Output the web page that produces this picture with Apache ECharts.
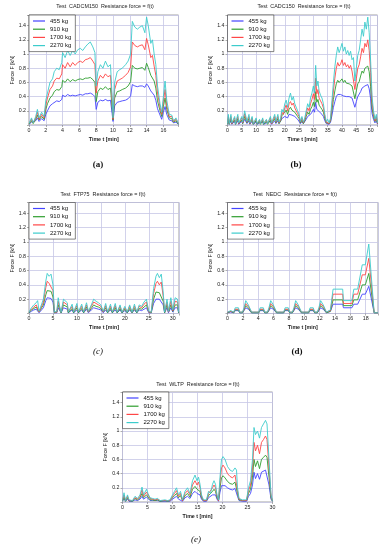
<!DOCTYPE html>
<html><head><meta charset="utf-8">
<script src="https://cdn.jsdelivr.net/npm/echarts@6/dist/echarts.min.js"></script>
<style>html,body{margin:0;padding:0;background:#fff}#c{width:386px;height:550px}</style>
</head><body><div id="c"></div>
<script>
const massNames = ['455 kg','910 kg','1700 kg','2270 kg'];
const panelTitles = ['Test  CADCM150  Resistance force = f(t)','Test  CADC150  Resistance force = f(t)','Test  FTP75  Resistance force = f(t)','Test  NEDC  Resistance force = f(t)','Test  WLTP  Resistance force = f(t)'];
const captions = ['(a)','(b)','(c)','(d)','(e)'];
const xMax = [17.8, 52.4, 31.3, 19.6, 30];
const xStep = [2, 5, 5, 2, 5];
const yTicks = [0.2,0.4,0.6,0.8,1,1.2,1.4];

// (a) CADCM150
const aT = [0,0.3,0.5,0.8,1.0,1.2,1.5,1.8,2.0,2.2,2.5,2.8,3.0,3.3,3.6,3.9,4.0,4.3,4.6,4.9,5.2,5.5,5.8,6.1,6.4,6.7,7.0,7.3,7.6,7.85,8.0,8.2,8.5,8.8,9.1,9.4,9.7,9.9,10.0,10.2,10.5,10.8,11.1,11.5,11.8,12.1,12.3,12.6,12.9,13.2,13.5,13.8,14.0,14.2,14.5,14.7,14.9,15.1,15.3,15.6,15.8,16.0,16.2,16.4,16.7,17.0,17.2,17.5,17.8];
const a2270 = [0.02,0.10,0.03,0.12,0.22,0.10,0.18,0.12,0.35,0.45,0.60,0.65,0.75,0.80,0.78,0.88,1.02,0.95,1.05,0.98,1.05,1.00,1.06,1.08,1.05,1.10,1.14,1.17,1.10,1.02,0.55,0.75,0.85,0.80,0.90,0.82,0.85,0.40,0.10,0.60,0.75,0.78,0.80,0.85,0.90,1.00,1.46,1.38,1.35,1.38,1.40,1.30,1.52,1.40,1.15,1.20,1.00,0.85,0.55,0.30,0.18,0.40,0.62,0.35,0.15,0.14,0.06,0.10,0.02];
const a1700 = [0.02,0.08,0.03,0.10,0.18,0.08,0.15,0.10,0.28,0.38,0.50,0.55,0.62,0.66,0.65,0.72,0.85,0.80,0.88,0.82,0.88,0.84,0.88,0.90,0.88,0.92,0.93,0.95,0.90,0.85,0.45,0.62,0.70,0.66,0.72,0.68,0.70,0.32,0.08,0.50,0.62,0.64,0.66,0.70,0.74,0.82,1.17,1.12,1.10,1.12,1.13,1.06,1.22,1.13,0.95,0.98,0.83,0.70,0.45,0.25,0.15,0.33,0.50,0.28,0.12,0.12,0.05,0.08,0.02];
const a910 = [0.01,0.06,0.02,0.08,0.14,0.07,0.12,0.08,0.22,0.30,0.38,0.42,0.47,0.50,0.49,0.54,0.63,0.60,0.65,0.61,0.64,0.62,0.64,0.65,0.64,0.66,0.66,0.67,0.64,0.60,0.33,0.47,0.52,0.50,0.54,0.50,0.52,0.24,0.07,0.38,0.47,0.48,0.50,0.52,0.55,0.61,0.84,0.80,0.79,0.80,0.81,0.77,0.87,0.81,0.70,0.72,0.62,0.52,0.34,0.20,0.12,0.26,0.38,0.22,0.10,0.09,0.04,0.06,0.01];
const a455 = [0.01,0.04,0.02,0.06,0.10,0.05,0.09,0.06,0.15,0.20,0.27,0.30,0.32,0.34,0.33,0.36,0.42,0.40,0.43,0.41,0.42,0.41,0.42,0.43,0.42,0.44,0.44,0.45,0.43,0.40,0.22,0.32,0.35,0.34,0.36,0.34,0.35,0.16,0.05,0.27,0.32,0.33,0.34,0.35,0.37,0.41,0.57,0.55,0.54,0.55,0.55,0.53,0.58,0.55,0.48,0.49,0.42,0.35,0.23,0.14,0.08,0.18,0.26,0.15,0.07,0.06,0.03,0.04,0.01];

// (b) CADC150
const bT = [0,0.3,0.6,1.2,1.5,2.5,2.8,3.6,3.9,5.0,
5.3,6.0,6.4,6.8,7.5,7.8,8.6,9.0,10.0,10.3,
11.2,11.5,12.3,12.6,13.6,14.0,15.0,15.4,16.5,16.9,
17.6,18.0,18.6,19.0,19.5,20.0,20.5,21.0,21.5,22.0,
22.5,23.0,23.5,24.0,24.5,25.0,25.5,26.0,26.5,27.0,
27.5,28.0,28.5,29.0,29.5,30.0,30.4,30.8,31.2,31.6,
32.0,32.5,33.0,33.5,34.0,34.5,35.0,35.5,36.0,36.5,
37.0,37.5,38.0,38.5,39.0,39.5,40.0,40.5,41.0,41.5,
42.0,42.5,43.0,43.5,44.0,44.5,45.0,45.5,46.0,46.5,
47.0,47.5,48.0,48.5,49.0,49.5,50.0,50.5,51.0,51.5,
52.0,52.4];
const b2270 = [.02,.15,.02,.15,.03,.12,.02,.15,.03,.12,
.04,.20,.22,.05,.15,.03,.12,.02,.10,.02,
.08,.02,.10,.02,.08,.02,.12,.03,.15,.05,
.15,.04,.10,.22,.18,.30,.35,.25,.38,.45,
.35,.40,.30,.32,.20,.15,.05,.12,.04,.10,
.20,.30,.25,.38,.45,.55,.45,.84,.55,.62,
.48,.42,.38,.30,.15,.05,.08,.03,.10,.35,
.60,.82,.98,1.10,1.02,1.08,1.15,1.04,1.10,1.00,
1.05,.98,1.04,.92,.95,.62,.80,.98,1.05,1.20,
1.35,1.25,1.45,1.35,1.52,1.30,.90,.40,.20,.08,
.15,.03];
const b1700 = [.02,.12,.02,.12,.02,.10,.02,.12,.02,.10,
.03,.16,.18,.04,.12,.02,.10,.02,.08,.02,
.07,.02,.08,.02,.07,.02,.10,.02,.12,.04,
.12,.03,.08,.18,.15,.24,.28,.20,.30,.33,
.28,.31,.24,.25,.16,.12,.04,.10,.03,.08,
.16,.24,.20,.30,.36,.44,.36,.66,.44,.50,
.38,.34,.30,.24,.12,.04,.06,.02,.08,.28,
.48,.66,.80,.88,.83,.86,.92,.84,.88,.82,
.85,.80,.84,.76,.78,.50,.65,.80,.85,.96,
1.08,1.02,1.15,1.10,1.20,1.05,.74,.32,.16,.06,
.12,.02];
const b910 = [.01,.09,.01,.09,.02,.07,.01,.09,.02,.07,
.02,.12,.13,.03,.09,.02,.07,.01,.06,.01,
.05,.01,.06,.01,.05,.01,.07,.02,.09,.03,
.09,.02,.06,.13,.11,.18,.21,.15,.22,.25,
.21,.23,.18,.19,.12,.09,.03,.07,.02,.06,
.12,.18,.15,.22,.26,.32,.26,.47,.32,.36,
.28,.25,.22,.18,.09,.03,.05,.02,.06,.21,
.36,.48,.58,.63,.60,.62,.65,.60,.63,.59,
.61,.58,.60,.55,.56,.37,.48,.58,.61,.69,
.76,.73,.80,.78,.83,.75,.54,.24,.12,.05,
.09,.02];
const b455 = [.01,.06,.01,.06,.01,.05,.01,.06,.01,.05,
.02,.08,.09,.02,.06,.01,.05,.01,.04,.01,
.03,.01,.04,.01,.03,.01,.05,.01,.06,.02,
.06,.02,.04,.09,.08,.12,.14,.10,.15,.17,
.14,.16,.12,.13,.08,.06,.02,.05,.02,.04,
.08,.12,.10,.15,.18,.22,.18,.32,.22,.24,
.19,.17,.15,.12,.06,.02,.03,.01,.04,.14,
.25,.33,.40,.43,.41,.43,.44,.41,.43,.40,
.42,.40,.41,.38,.39,.25,.33,.40,.42,.47,
.52,.50,.55,.54,.57,.51,.37,.16,.08,.03,
.06,.01];

// (c) FTP75
const cT = [0,0.5,1.0,1.5,1.8,2.1,2.5,3.0,3.5,3.8,
4.2,4.6,5.0,5.3,5.8,6.1,6.4,6.7,7.2,7.6,
8.0,8.2,9.0,9.3,10.0,10.3,11.0,11.4,12.0,12.4,
13.0,13.5,14.0,14.5,15.0,15.5,16.0,16.4,17.0,17.4,
18.0,18.4,19.0,19.4,20.0,20.5,21.0,21.5,22.0,22.5,
23.0,23.5,24.0,24.5,25.0,25.5,26.0,26.5,26.8,27.2,
27.6,28.0,28.3,28.8,29.1,29.6,30.0,30.5,31.0,31.23];
const c2270 = [.02,.08,.12,.15,.18,.03,.02,.20,.45,.56,
.52,.55,.40,.02,.03,.22,.10,.02,.20,.22,
.15,.02,.13,.02,.14,.02,.13,.02,.15,.03,
.12,.20,.17,.15,.12,.03,.14,.02,.13,.02,
.14,.02,.12,.02,.10,.02,.12,.02,.13,.02,
.12,.10,.16,.20,.03,.02,.35,.52,.56,.50,
.55,.30,.02,.20,.03,.22,.05,.22,.20,.02];
const c1700 = [.02,.06,.09,.12,.14,.02,.02,.16,.36,.45,
.42,.44,.32,.02,.02,.17,.08,.02,.16,.17,
.12,.02,.10,.02,.11,.02,.10,.02,.12,.02,
.10,.16,.14,.12,.10,.02,.11,.02,.10,.02,
.11,.02,.10,.02,.08,.02,.10,.02,.10,.02,
.10,.08,.13,.16,.02,.02,.28,.42,.45,.40,
.44,.24,.02,.16,.02,.17,.04,.17,.16,.02];
const c910 = [.01,.05,.07,.09,.10,.02,.01,.12,.26,.32,
.30,.31,.23,.01,.02,.12,.06,.01,.12,.12,
.09,.01,.07,.01,.08,.01,.07,.01,.09,.02,
.07,.12,.10,.09,.07,.02,.08,.01,.07,.01,
.08,.01,.07,.01,.06,.01,.07,.01,.07,.01,
.07,.06,.09,.12,.02,.01,.20,.30,.32,.29,
.31,.17,.01,.12,.02,.12,.03,.12,.12,.01];
const c455 = [.01,.03,.05,.06,.07,.01,.01,.08,.18,.22,
.20,.21,.16,.01,.01,.08,.04,.01,.08,.08,
.06,.01,.05,.01,.05,.01,.05,.01,.06,.01,
.05,.08,.07,.06,.05,.01,.05,.01,.05,.01,
.05,.01,.05,.01,.04,.01,.05,.01,.05,.01,
.05,.04,.06,.08,.01,.01,.14,.20,.22,.20,
.21,.12,.01,.08,.01,.08,.02,.08,.08,.01];

// (d) NEDC
const dT = [0,
0.18,0.25,0.42,0.5,0.82,1.0,1.42,1.6,1.95,2.15,2.38,2.58,2.72,2.93,3.13,
3.43,3.5,3.67,3.75,4.07,4.25,4.67,4.85,5.2,5.4,5.63,5.83,5.97,6.18,6.38,
6.68,6.75,6.92,7.0,7.32,7.5,7.92,8.1,8.45,8.65,8.88,9.08,9.22,9.43,9.63,
9.93,10.0,10.17,10.25,10.57,10.75,11.17,11.35,11.7,11.9,12.13,12.33,12.47,12.68,12.88,
13.4,13.75,15.0,15.1,16.2,16.45,16.95,17.55,17.95,18.4,19.1,19.6];
const d2270 = [.02,
.02,.04,.04,.02,.02,.08,.08,.02,.02,.08,.18,.18,.12,.12,.02,
.02,.04,.04,.02,.02,.08,.08,.02,.02,.08,.18,.18,.12,.12,.02,
.02,.04,.04,.02,.02,.08,.08,.02,.02,.08,.18,.18,.12,.12,.02,
.02,.04,.04,.02,.02,.08,.08,.02,.02,.08,.18,.18,.12,.12,.02,
.05,.34,.34,.18,.18,.34,.34,.68,.68,.97,.01,.01];
const d1700 = [.02,
.02,.03,.03,.02,.02,.06,.06,.02,.02,.06,.14,.14,.10,.10,.02,
.02,.03,.03,.02,.02,.06,.06,.02,.02,.06,.14,.14,.10,.10,.02,
.02,.03,.03,.02,.02,.06,.06,.02,.02,.06,.14,.14,.10,.10,.02,
.02,.03,.03,.02,.02,.06,.06,.02,.02,.06,.14,.14,.10,.10,.02,
.04,.27,.27,.14,.14,.27,.27,.54,.54,.77,.01,.01];
const d910 = [.01,
.01,.03,.03,.01,.01,.05,.05,.01,.01,.05,.11,.11,.08,.08,.01,
.01,.03,.03,.01,.01,.05,.05,.01,.01,.05,.11,.11,.08,.08,.01,
.01,.03,.03,.01,.01,.05,.05,.01,.01,.05,.11,.11,.08,.08,.01,
.01,.03,.03,.01,.01,.05,.05,.01,.01,.05,.11,.11,.08,.08,.01,
.03,.19,.19,.11,.11,.19,.19,.40,.40,.56,.01,.01];
const d455 = [.01,
.01,.02,.02,.01,.01,.04,.04,.01,.01,.04,.08,.08,.06,.06,.01,
.01,.02,.02,.01,.01,.04,.04,.01,.01,.04,.08,.08,.06,.06,.01,
.01,.02,.02,.01,.01,.04,.04,.01,.01,.04,.08,.08,.06,.06,.01,
.01,.02,.02,.01,.01,.04,.04,.01,.01,.04,.08,.08,.06,.06,.01,
.03,.13,.13,.08,.08,.13,.13,.27,.27,.38,.01,.01];

// (e) WLTP
const eT = [0,0.3,0.6,1.0,1.3,2.0,2.5,3.0,3.5,3.9,
4.2,4.5,4.8,5.1,5.5,6.0,6.5,7.0,7.5,8.5,
9.0,9.5,10.0,10.4,10.8,11.2,11.6,12.0,12.5,13.0,
13.5,14.0,14.5,14.9,15.2,15.5,15.8,16.2,16.8,17.2,
17.6,18.0,18.3,18.6,18.9,19.2,19.5,19.8,20.1,20.5,
21.0,21.5,22.0,22.5,22.8,23.0,23.3,24.0,24.8,25.2,
25.6,26.0,26.3,26.6,27.0,27.4,27.8,28.2,28.6,28.9,
29.3,29.7,30.0];
const e2270 = [.02,.13,.02,.10,.03,.02,.08,.05,.10,.21,
.10,.12,.18,.12,.06,.05,.04,.05,.02,.03,
.02,.03,.10,.15,.20,.10,.15,.03,.15,.20,
.12,.30,.38,.30,.35,.25,.10,.03,.03,.15,
.12,.25,.30,.25,.10,.03,.35,.60,.64,.60,
.50,.45,.43,.48,.45,.20,.05,.03,.03,.20,
.30,.60,1.05,.95,1.00,.90,1.05,1.10,1.15,1.10,
.60,.10,.02];
const e1700 = [.02,.10,.02,.08,.02,.02,.06,.04,.08,.17,
.08,.10,.14,.10,.05,.04,.03,.04,.02,.02,
.02,.02,.08,.12,.16,.08,.12,.02,.12,.16,
.10,.24,.30,.24,.28,.20,.08,.02,.02,.12,
.10,.20,.24,.20,.08,.02,.28,.48,.52,.48,
.40,.36,.34,.38,.36,.16,.04,.02,.02,.16,
.24,.48,.84,.72,.80,.68,.84,.88,.93,.88,
.48,.08,.02];
const e910 = [.01,.07,.01,.06,.02,.01,.05,.03,.06,.12,
.06,.07,.10,.07,.03,.03,.02,.03,.01,.02,
.01,.02,.06,.09,.12,.06,.09,.02,.09,.12,
.07,.18,.22,.18,.20,.15,.06,.02,.02,.09,
.07,.15,.18,.15,.06,.02,.20,.34,.37,.34,
.29,.26,.25,.28,.26,.12,.03,.02,.02,.12,
.18,.35,.60,.50,.58,.47,.60,.63,.66,.63,
.35,.06,.01];
const e455 = [.01,.05,.01,.04,.01,.01,.03,.02,.04,.08,
.04,.05,.07,.05,.02,.02,.02,.02,.01,.01,
.01,.01,.04,.06,.08,.04,.06,.01,.06,.08,
.05,.12,.15,.12,.14,.10,.04,.01,.01,.06,
.05,.10,.12,.10,.04,.01,.14,.23,.25,.23,
.20,.18,.17,.19,.18,.08,.02,.01,.01,.08,
.12,.24,.42,.33,.40,.32,.42,.44,.45,.44,
.24,.04,.01];

const panels = [
  {t:aT, s:[a455,a910,a1700,a2270]},
  {t:bT, s:[b455,b910,b1700,b2270]},
  {t:cT, s:[c455,c910,c1700,c2270]},
  {t:dT, s:[d455,d910,d1700,d2270]},
  {t:eT, s:[e455,e910,e1700,e2270]}
];

// layout (pixels)
const colors = ['#4444ff','#2e9e2e','#ff4646','#3ccccc'];
const grids = [
  {left:29, top:15, width:149.5, height:110},
  {left:227.5, top:15, width:150, height:110},
  {left:29, top:202.5, width:150, height:111},
  {left:227.5, top:202.5, width:150.5, height:111},
  {left:122.5, top:392, width:150, height:110}
];
const titlePos = [[105,7],[304,7],[103,195],[295,195],[198,385]];
const capPos = [[98,165],[296,165],[98,352],[297,352],[196,540]];
const capStyle = ['bold','bold','italic','bold','italic'];
const SANS = 'Liberation Sans, Arial, sans-serif';

panels.forEach((p,i)=>p.s.forEach((s,k)=>{ if(s.length!==p.t.length) console.error('len mismatch', i, k, s.length, p.t.length); }));

const isTick = (v, step) => Math.abs(v/step - Math.round(v/step)) < 1e-6;

const option = {
  animation: false,
  backgroundColor: '#fff',
  grid: grids.map(g => Object.assign({show:true, backgroundColor:'#fff', borderColor:'#8c8c8c', borderWidth:0.8, containLabel:false, outerBoundsMode:'none'}, g)),
  xAxis: grids.map((g,i)=>({
    gridIndex:i, type:'value', min:0, max:xMax[i], interval:xStep[i],
    name:'Time t [min]', nameLocation:'middle', nameGap:12,
    nameTextStyle:{fontSize:5.3, fontWeight:'bold', color:'#222', fontFamily:SANS},
    axisLine:{show:false},
    axisTick:{show:true, length:2, lineStyle:{color:'#777', width:0.6}},
    axisLabel:{fontSize:5.3, margin:3, color:'#222', fontFamily:SANS, showMaxLabel:true, showMinLabel:true,
      formatter: v => isTick(v, xStep[i]) ? String(Math.round(v)) : ''},
    splitLine:{show:true, lineStyle:{color:'#c6c6e6', width:0.8}}
  })),
  yAxis: grids.map((g,i)=>({
    gridIndex:i, type:'value', min:0, max:1.55, interval:0.2,
    name:'Force F [kN]', nameLocation:'middle', nameGap:14, nameRotate:90,
    nameTextStyle:{fontSize:5.3, color:'#222', fontFamily:SANS},
    axisLine:{show:false},
    axisTick:{show:true, length:2, lineStyle:{color:'#777', width:0.6}},
    axisLabel:{fontSize:5.3, margin:3, color:'#222', fontFamily:SANS,
      formatter: v => yTicks.some(t => Math.abs(t - v) < 1e-6) ? String(Math.round(v*10)/10) : ''},
    splitLine:{show:true, lineStyle:{color:'#c6c6e6', width:0.8}}
  })),
  legend: grids.map((g,i)=>({
    orient:'vertical', left:g.left, top:g.top, data:massNames,
    icon:'rect', itemWidth:12, itemHeight:1.2, itemGap:2.2, padding:[3,4,3,4],
    backgroundColor:'#fff', borderColor:'#333', borderWidth:0.6, borderRadius:0,
    selectedMode:false, z:10,
    textStyle:{fontSize:6, color:'#111', fontFamily:SANS}
  })),
  series: [],
  graphic: []
};
panels.forEach((p,i)=>{
  p.s.forEach((vals,k)=>{
    option.series.push({
      type:'line', name:massNames[k], xAxisIndex:i, yAxisIndex:i,
      symbol:'none', showSymbol:false, clip:true,
      lineStyle:{width:0.9, color:colors[k]}, itemStyle:{color:colors[k]},
      data: p.t.map((t,j)=>[t, vals[j]])
    });
  });
  option.graphic.push({type:'text', x:titlePos[i][0], y:titlePos[i][1], silent:true,
    style:{text:panelTitles[i], fill:'#222', font:'5.4px '+SANS, align:'center', verticalAlign:'middle'}});
  option.graphic.push({type:'text', x:capPos[i][0], y:capPos[i][1], silent:true,
    style:{text:captions[i], fill:'#111', font:capStyle[i]+' 9px "Liberation Serif", "DejaVu Serif", serif', align:'center', verticalAlign:'middle'}});
});
const chart = echarts.init(document.getElementById('c'), null, {renderer:'canvas'});
chart.setOption(option);
</script></body></html>
